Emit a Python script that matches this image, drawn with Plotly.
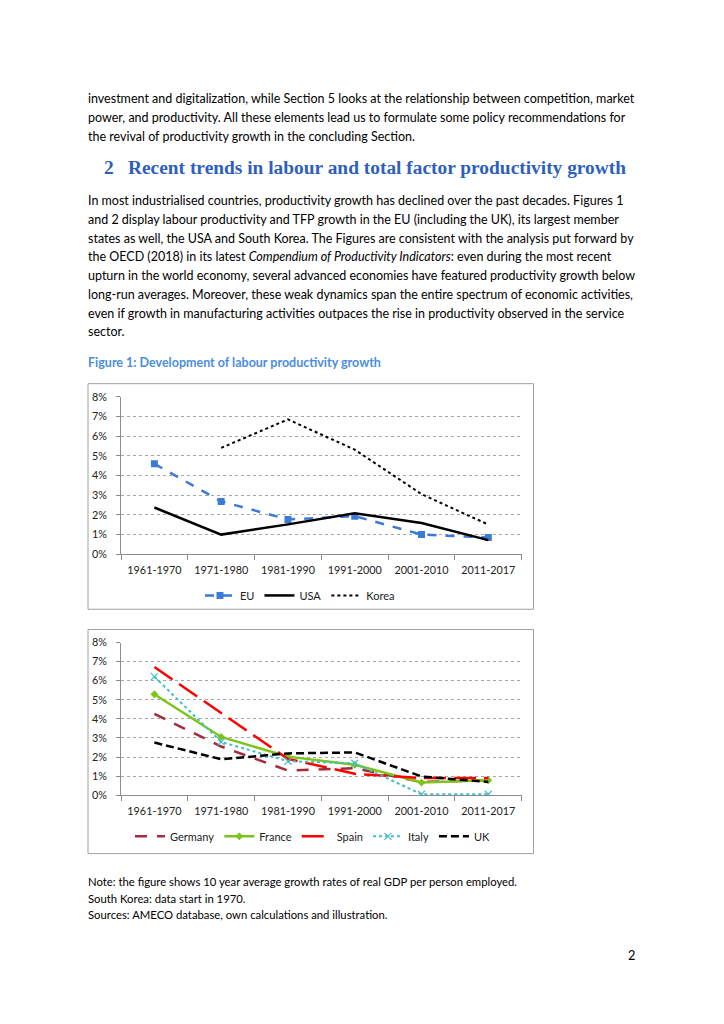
import plotly.graph_objects as go

# ---------------- data ----------------
periods = ["1961-1970", "1971-1980", "1981-1990", "1991-2000", "2001-2010", "2011-2017"]

eu = [0.0460, 0.0269, 0.0177, 0.0194, 0.0100, 0.0085]
usa = [0.0238, 0.0100, 0.0152, 0.0209, 0.0159, 0.0072]
korea = [None, 0.0541, 0.0686, 0.0532, 0.0306, 0.0151]

germany = [0.0426, 0.0255, 0.0129, 0.0141, 0.0069, 0.0078]
france = [0.0529, 0.0305, 0.0202, 0.0159, 0.0066, 0.0078]
spain = [0.0672, 0.0431, 0.0190, 0.0112, 0.0090, 0.0090]
italy = [0.0621, 0.0279, 0.0178, 0.0167, 0.0005, 0.0005]
uk = [0.0276, 0.0188, 0.0219, 0.0224, 0.0098, 0.0069]

y_ticks = [0, 0.01, 0.02, 0.03, 0.04, 0.05, 0.06, 0.07, 0.08]

para1 = [
    "investment and digitalization, while Section 5 looks at the relationship between competition, market",
    "power, and productivity. All these elements lead us to formulate some policy recommendations for",
    "the revival of productivity growth in the concluding Section.",
]
heading_num = "2"
heading = "Recent trends in labour and total factor productivity growth"
para2 = [
    "In most industrialised countries, productivity growth has declined over the past decades. Figures 1",
    "and 2 display labour productivity and TFP growth in the EU (including the UK), its largest member",
    "states as well, the USA and South Korea. The Figures are consistent with the analysis put forward by",
    "the OECD (2018) in its latest <i>Compendium of Productivity Indicators</i>: even during the most recent",
    "upturn in the world economy, several advanced economies have featured productivity growth below",
    "long-run averages. Moreover, these weak dynamics span the entire spectrum of economic activities,",
    "even if growth in manufacturing activities outpaces the rise in productivity observed in the service",
    "sector.",
]
caption = "Figure 1: Development of labour productivity growth"
notes = [
    "Note: the figure shows 10 year average growth rates of real GDP per person employed.",
    "South Korea: data start in 1970.",
    "Sources: AMECO database, own calculations and illustration.",
]
page_no = "2"

# ---------------- layout helpers ----------------
W, H = 724, 1024
px = lambda x: x / W
py = lambda y: 1 - y / H

BODY = "Lato"
fig = go.Figure()

# chart 1
fig.add_trace(go.Scatter(x=periods, y=eu, name="EU", mode="lines+markers",
                         line=dict(color="#3d7ad6", width=2.5, dash="dash"),
                         marker=dict(symbol="square", size=7, color="#3d7ad6"),
                         xaxis="x", yaxis="y", legend="legend"))
fig.add_trace(go.Scatter(x=periods, y=usa, name="USA", mode="lines",
                         line=dict(color="black", width=2.5),
                         xaxis="x", yaxis="y", legend="legend"))
fig.add_trace(go.Scatter(x=periods, y=korea, name="Korea", mode="lines",
                         line=dict(color="black", width=2, dash="dot"),
                         xaxis="x", yaxis="y", legend="legend"))

# chart 2
fig.add_trace(go.Scatter(x=periods, y=germany, name="Germany", mode="lines",
                         line=dict(color="#a52a3c", width=2.5, dash="12px,10px"),
                         xaxis="x2", yaxis="y2", legend="legend2"))
fig.add_trace(go.Scatter(x=periods, y=france, name="France", mode="lines+markers",
                         line=dict(color="#7cc41a", width=2.5),
                         marker=dict(symbol="diamond", size=6, color="#7cc41a"),
                         xaxis="x2", yaxis="y2", legend="legend2"))
fig.add_trace(go.Scatter(x=periods, y=spain, name="Spain", mode="lines",
                         line=dict(color="#ff0000", width=2.5, dash="22px,8px"),
                         xaxis="x2", yaxis="y2", legend="legend2"))
fig.add_trace(go.Scatter(x=periods, y=italy, name="Italy", mode="lines+markers",
                         line=dict(color="#40bfc8", width=2, dash="dot"),
                         marker=dict(symbol="x-thin", size=7, color="#40bfc8",
                                     line=dict(color="#40bfc8", width=1.2)),
                         xaxis="x2", yaxis="y2", legend="legend2"))
fig.add_trace(go.Scatter(x=periods, y=uk, name="UK", mode="lines",
                         line=dict(color="black", width=2.5, dash="8px,4px"),
                         xaxis="x2", yaxis="y2", legend="legend2"))

xdom = [px(121), px(521.7)]
axfont = dict(family=BODY, size=10.8, color="#222")

def xaxis(anchor):
    return dict(domain=xdom, anchor=anchor, type="category", range=[-0.5, 5.5],
                showline=True, linecolor="#8c8c8c", linewidth=1,
                ticks="outside", tickson="boundaries", ticklen=5, tickcolor="#8c8c8c",
                ticklabelstandoff=6,
                showgrid=False, tickfont=axfont, fixedrange=True)

def yaxis(anchor, dom):
    return dict(domain=dom, anchor=anchor, range=[0, 0.08], tickvals=y_ticks,
                tickformat=".0%", showline=True, linecolor="#8c8c8c", linewidth=1,
                ticks="outside", ticklen=4, tickcolor="#8c8c8c", ticklabelstandoff=7,
                showgrid=True, gridcolor="#a6a6a6", griddash="dot", gridwidth=1,
                zeroline=False, tickfont=axfont, fixedrange=True)

annotations = []
def text(s, x, y, size=13, color="black", family=BODY, anchor="left"):
    annotations.append(dict(text=s, x=px(x), y=py(y), xref="paper", yref="paper",
                            xanchor=anchor, yanchor="middle", showarrow=False,
                            font=dict(family=family, size=size, color=color)))

for i, s in enumerate(para1):
    text(s, 86, 93 + i * 19, size=12.5)
text("<b>" + heading_num + "</b>", 102, 162.5, size=19.4, color="#2e5fbf", family="Liberation Serif")
text("<b>" + heading + "</b>", 126, 162.5, size=19.4, color="#2e5fbf", family="Liberation Serif")
for i, s in enumerate(para2):
    text(s, 86, 196 + i * 19, size=12.5)
text("<b>" + caption + "</b>", 86, 360, size=12.5, color="#4a8ee0")
for i, s in enumerate(notes):
    text(s, 86, 886 + i * 16.7, size=11.3)
text(page_no, 637, 960, size=12.8, anchor="right")

shapes = [
    dict(type="rect", xref="paper", yref="paper", x0=px(88), x1=px(533.5), y0=py(381.5), y1=py(610),
         line=dict(color="#a0a0a0", width=1)),
    dict(type="rect", xref="paper", yref="paper", x0=px(88), x1=px(533.5), y0=py(630.5), y1=py(857.5),
         line=dict(color="#a0a0a0", width=1)),
]

legfont = dict(family=BODY, size=11, color="#222")
fig.update_layout(
    width=W, height=H, margin=dict(l=0, r=0, t=0, b=0),
    paper_bgcolor="white", plot_bgcolor="white",
    xaxis=xaxis("y"), yaxis=yaxis("x", [py(554.3), py(395)]),
    xaxis2=xaxis("y2"), yaxis2=yaxis("x2", [py(798.3), py(643.7)]),
    legend=dict(orientation="h", x=px(300), y=py(596), xanchor="center", yanchor="middle",
                font=legfont, bgcolor="rgba(0,0,0,0)", itemwidth=30),
    legend2=dict(orientation="h", x=px(313), y=py(840), xanchor="center", yanchor="middle",
                 font=legfont, bgcolor="rgba(0,0,0,0)", itemwidth=30, tracegroupgap=0),
    annotations=annotations, shapes=shapes,
)

fig.write_html("out.html", config={"displayModeBar": False},
               post_script="document.body.style.margin='0';document.body.style.overflow='hidden';")
